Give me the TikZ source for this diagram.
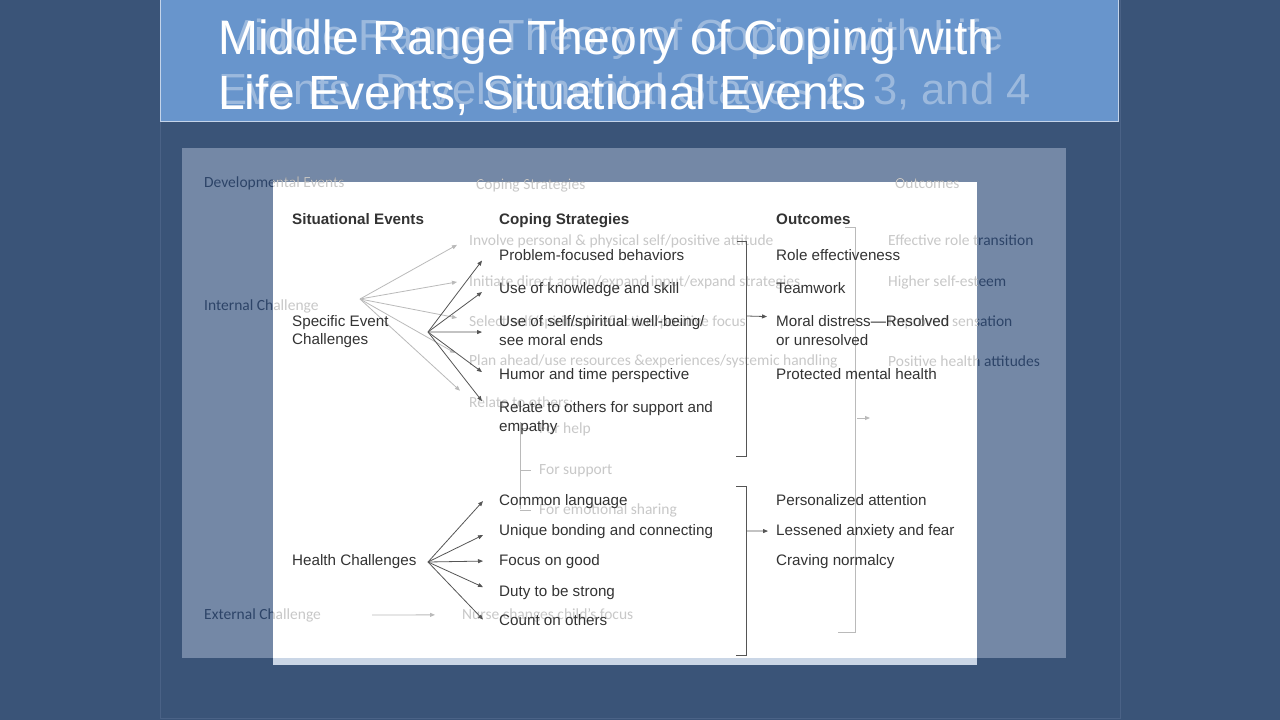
\documentclass[tikz,border=0pt]{standalone}
\usepackage{fontspec}
\setmainfont{Liberation Sans}
\newfontfamily\oldfont{Carlito}
\usetikzlibrary{arrows.meta, calc}
\definecolor{slidebg}{RGB}{58, 84, 120}
\definecolor{slideedge}{RGB}{74, 98, 134}
\definecolor{titleblue}{RGB}{104, 149, 204}
\definecolor{titleedge}{RGB}{196, 212, 234}
\definecolor{oldpanel}{RGB}{116, 136, 166}
\definecolor{oldnavy}{RGB}{45, 68, 104}
\definecolor{oldgray}{RGB}{200, 200, 200}
\definecolor{oldline}{RGB}{186, 186, 186}
\definecolor{inktext}{RGB}{51, 51, 51}
\definecolor{inkline}{RGB}{85, 85, 85}
\definecolor{stripblue}{RGB}{202, 214, 230}

% Previous slide (fading out): text colour, line colour
\newcommand{\oldslide}[2]{%
  % Column heads
  \node[oldtxt, text=#1] (dvh) at (204,187) {Developmental Events};
  \node[oldtxt, text=#1] (och) at (476,189) {Coping Strategies};
  \node[oldtxt, text=#1] (ooh) at (895,188) {Outcomes};
  % Challenges
  \node[oldtxt, text=#1] (inc) at (204,310) {Internal Challenge};
  \node[oldtxt, text=#1] (exc) at (204,619) {External Challenge};
  \coordinate (ohub) at (360,299);
  % Strategies
  \node[oldtxt, text=#1] (os1) at (469,245) {Involve personal \& physical self/positive attitude};
  \node[oldtxt, text=#1] (os2) at (469,286) {Initiate direct action/expand input/expand strategies};
  \node[oldtxt, text=#1] (os3) at (469,326) {Select self/spiritual/reflective/positive focus};
  \node[oldtxt, text=#1] (os4) at (469,365) {Plan ahead/use resources \&experiences/systemic handling};
  \node[oldtxt, text=#1] (os5) at (469,407) {Relate to others:};
  \node[oldtxt, text=#1] (fh) at (539,433) {For help};
  \node[oldtxt, text=#1] (fs) at (539,474) {For support};
  \node[oldtxt, text=#1] (fe) at (539,514) {For emotional sharing};
  \node[oldtxt, text=#1] (nur) at (462,619) {Nurse changes child’s focus};
  \foreach \t/\s/\x in {os1/-4/-12, os2/0/-12, os3/4/-12, os4/8/-14, os5/11/-9}
    \draw[oldfeed, draw=#2] (ohub) -- ([xshift=\x pt, yshift=\s pt]\t.west);
  \draw[oldfeed, draw=#2] ([xshift=51pt]exc.east) -- ([xshift=-27pt]nur.west);
  % Sub-list of relate
  \draw[draw=#2, line width=0.8pt] (520,422) -- (520,509);
  \foreach \t in {fh, fs, fe}
    \draw[draw=#2, line width=0.8pt] (520,0 |- \t.west) -- ([xshift=-8pt]\t.west);
  % Outcomes
  \draw[draw=#2, line width=0.8pt] (845,227) -- (855,227) -- (855,632) -- (838,632);
  \coordinate (obr) at (857,418);
  \draw[oldfeed, draw=#2] (obr) -- ++(13,0);
  \node[oldtxt, text=#1] (oo1) at (888,245) {Effective role transition};
  \node[oldtxt, text=#1] (oo2) at (888,286) {Higher self-esteem};
  \node[oldtxt, text=#1] (oo3) at (888,326) {Improved sensation};
  \node[oldtxt, text=#1] (oo4) at (888,366) {Positive health attitudes};
}

\begin{document}
\begin{tikzpicture}[
    x=1pt, y=-1pt,
    txt/.style={inner sep=0pt, anchor=base west, text=inktext, font=\fontsize{15.2}{18}\selectfont},
    head/.style={txt, font=\fontsize{15.2}{18}\selectfont\bfseries},
    oldtxt/.style={inner sep=0pt, anchor=base west, font=\oldfont\fontsize{15.5}{18}\selectfont},
    feed/.style={draw=inkline, line width=0.8pt, -{Triangle[length=5pt, width=4pt]}},
    oldfeed/.style={line width=0.8pt, -{Triangle[length=5pt, width=4pt]}},
    titletxt/.style={inner sep=0pt, anchor=base west, text=white, font=\fontsize{48}{50}\selectfont},
    oldtitle/.style={titletxt, text opacity=0.35, font=\fontsize{43.5}{45}\selectfont}
]
\useasboundingbox (0,0) rectangle (1280,720);

% Slide background
\fill[slidebg] (0,0) rectangle (1280,720);
\draw[slideedge, line width=0.6pt] (160,0) -- (160,718) -- (1120,718) -- (1120,0);

% Title bar
\fill[titleblue] (160,0) rectangle (1119,122);
\draw[titleedge, line width=1.2pt] (160.6,-1) rectangle (1118.4,121.4);
\node[oldtitle] (ot1) at (218,50) {Middle Range Theory of Coping with Life};
\node[oldtitle] (ot2) at (218,104) {Events, Developmental Stages 2, 3, and 4};
\node[titletxt] (t1) at (218,54) {Middle Range Theory of Coping with};
\node[titletxt] (t2) at (218,109) {Life Events, Situational Events};

% Old panel
\fill[oldpanel] (182,148) rectangle (1066,658);
\oldslide{oldnavy}{oldnavy}

% New panel
\fill[white] (273,182) rectangle (977,658);
\fill[stripblue] (273,658) rectangle (977,665);
\begin{scope}
  \clip (273,170) rectangle (977,665);
  \oldslide{oldgray}{oldline}
\end{scope}

% Heads
\node[head] (sith) at (292,224) {Situational Events};
\node[head] (coph) at (499,224) {Coping Strategies};
\node[head] (outh) at (776,224) {Outcomes};

% Specific event challenges
\node[txt] (se1) at (292,326) {Specific Event};
\node[txt] (se2) at (292,344) {Challenges};
\coordinate (hubA) at (428,332);
\node[txt] (ps) at (499,260) {Problem-focused behaviors};
\node[txt] (uk) at (499,293) {Use of knowledge and skill};
\node[txt] (us1) at (499,326) {Use of self/spiritual well-being/};
\node[txt] (us2) at (499,345) {see moral ends};
\node[txt] (ht) at (499,379) {Humor and time perspective};
\node[txt] (ro1) at (499,412) {Relate to others for support and};
\node[txt] (ro2) at (499,431) {empathy};
\foreach \t/\s in {ps/-6, uk/-3, us1/-10, ht/3, ro1/7}
  \draw[feed] (hubA) -- ([xshift=-17pt, yshift=\s pt]\t.west);

\draw[inkline, line width=0.8pt] (737,241) -- (746,241) -- (746,456) -- (736,456);
\coordinate (brA) at (747,316);
\node[txt] (re) at (776,260) {Role effectiveness};
\node[txt] (tw) at (776,293) {Teamwork};
\node[txt] (md1) at (776,326) {Moral distress—Resolved};
\node[txt] (md2) at (776,345) {or unresolved};
\node[txt] (pm) at (776,379) {Protected mental health};
\draw[feed] (brA) -- ([xshift=-9pt, yshift=4pt]md1.west);

% Health challenges
\node[txt] (hc) at (292,565) {Health Challenges};
\coordinate (hubB) at (428,562);
\node[txt] (cl) at (499,505) {Common language};
\node[txt] (ub) at (499,535) {Unique bonding and connecting};
\node[txt] (fg) at (499,565) {Focus on good};
\node[txt] (ds) at (499,596) {Duty to be strong};
\node[txt] (co) at (499,625) {Count on others};
\foreach \t/\s in {cl/0, ub/-4, fg/0, ds/5, co/0}
  \draw[feed] (hubB) -- ([xshift=-16pt, yshift=\s pt]\t.west);

\draw[inkline, line width=0.8pt] (736,486) -- (746,486) -- (746,655) -- (736,655);
\coordinate (brB) at (747,531);
\node[txt] (pa) at (776,505) {Personalized attention};
\node[txt] (la) at (776,535) {Lessened anxiety and fear};
\node[txt] (cn) at (776,565) {Craving normalcy};
\draw[feed] (brB) -- ([xshift=-8pt]la.west);

\end{tikzpicture}
\end{document}
